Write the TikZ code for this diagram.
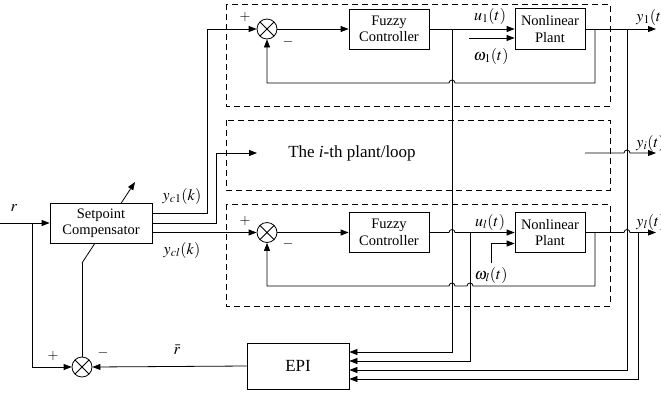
\documentclass[tikz,border=0pt]{standalone}
\usepackage{mathptmx}
\usepackage[no-math]{fontspec}
\setmainfont{Liberation Serif}
\usetikzlibrary{arrows.meta,calc}
\begin{document}
\begin{tikzpicture}[x=1pt,y=-1pt, line width=0.8pt,
  >={Triangle[length=8pt,width=6pt]},
  blk/.style={draw, rectangle, inner sep=0pt, align=center, font=\fontsize{14.5}{16.5}\selectfont},
  sumj/.style={draw, circle, minimum size=20pt, inner sep=0pt, path picture={\draw[line width=0.8pt] (path picture bounding box.north west) -- (path picture bounding box.south east) (path picture bounding box.north east) -- (path picture bounding box.south west);}},
  dbox/.style={draw, dash pattern=on 6pt off 4pt, line width=0.8pt},
  lbl/.style={font=\fontsize{16}{18}\selectfont, inner sep=0pt},
  sgn/.style={font=\fontsize{14}{16}\selectfont, inner sep=0pt}]
\useasboundingbox (0,0) rectangle (661,392);

% dashed boxes
\draw[dbox] (226,4) rectangle (610,106);
\draw[dbox] (226,120) rectangle (610,190);
\draw[dbox] (226,204) rectangle (610,306);

% nodes
\node[blk, minimum width=102pt, minimum height=40pt] (cmp) at (101,223) {Setpoint\\Compensator};
\node[sumj] (s1) at (267,29) {};
\node[blk, minimum width=80pt, minimum height=40pt] (fc1) at (389,29) {Fuzzy\\Controller};
\node[blk, minimum width=70pt, minimum height=41pt] (np1) at (550,29) {Nonlinear\\Plant};
\node[sumj] (sl) at (267,232.5) {};
\node[blk, minimum width=80pt, minimum height=40pt] (fcl) at (389,232.5) {Fuzzy\\Controller};
\node[blk, minimum width=70pt, minimum height=40pt] (npl) at (550,232.5) {Nonlinear\\Plant};
\node[sumj] (sb) at (82,367) {};
\node[draw, minimum width=102pt, minimum height=46pt, inner sep=0pt, font=\fontsize{17}{19}\selectfont] (epi) at (298,366) {EPI};
\node[inner sep=0pt, font=\fontsize{17}{19}\selectfont] (mid) at (352,153) {The \textit{i}-th plant/loop};

% coordinates
\coordinate (rin) at (0,223);
\coordinate (rj) at (32,223);
\coordinate (midin) at (257,153);
\coordinate (dbot) at (82,263);
\coordinate (dtop) at (135,182);
\coordinate (w1s) at (469,38);
\coordinate (wls) at (491,263);
\coordinate (u1b) at (452,29);
\coordinate (ulb) at (470,232.5);
\coordinate (y1b) at (627,29);
\coordinate (ylb) at (638,232.5);
\coordinate (f1b) at (595,29);
\coordinate (flb) at (595,232.5);
\coordinate (y1e) at (656,29);
\coordinate (yie) at (656,153);
\coordinate (yle) at (656,232.5);
\coordinate (yis) at (585,153);

% compensator connections
\draw[->] (rin) -- (cmp.west);
\draw[->] (rj) |- (sb.west);
\draw[->] ([yshift=10pt]cmp.east) -- ++(55,0) |- (s1.west);
\draw[->] (cmp.east) -- ++(64,0) |- (midin);
\draw[->] ([yshift=-9.5pt]cmp.east) -- (sl.west);
\draw (sb.north) -- (dbot);
\draw (dbot) -- ($(dbot)!0.247!(dtop)$);
\draw[->] ($(dbot)!0.741!(dtop)$) -- (dtop);
\draw[->] (epi.west) -- (sb.east);

% top loop
\draw[->] (s1.east) -- (fc1.west);
\draw[->] (fc1.east) -- (np1.west);
\draw[->] (w1s) -- (w1s -| np1.west);
\draw[->] (np1.east) -- (y1e);
\draw[->] (f1b) -- (595,83) -- (455,83) arc[start angle=0,end angle=180,radius=3pt] -| (s1.south);

% bottom loop
\draw[->] (sl.east) -- (fcl.west);
\draw[->] (fcl.east) -- (449,232.5) arc[start angle=180,end angle=0,radius=3pt] -- (npl.west);
\draw[->] (wls) |- ([yshift=-11pt]npl.west);
\draw[->] (npl.east) -- (624,232.5) arc[start angle=180,end angle=0,radius=3pt] -- (yle);
\draw[->] (flb) -- (595,286) -- (473,286) arc[start angle=0,end angle=180,radius=3pt] -- (455,286) arc[start angle=0,end angle=180,radius=3pt] -| (sl.south);

% middle output
\draw[->] (yis) -- (624,153) arc[start angle=180,end angle=0,radius=3pt] -- (yie);

% EPI inputs
\draw[->] (u1b) |- ([yshift=14pt]epi.east);
\draw[->] (ulb) |- ([yshift=5pt]epi.east);
\draw[->] (y1b) |- ([yshift=-4pt]epi.east);
\draw[->] (ylb) |- ([yshift=-13pt]epi.east);

% labels
\node[lbl] at (14,208) {$r$};
\node[lbl] at (182,196) {$y_{c1}(k)$};
\node[lbl] at (182,250) {$y_{cl}(k)$};
\node[lbl] at (177,350) {$\bar{r}$};
\node[lbl] at (490,16) {$u_1(t)$};
\node[lbl] at (491,56) {$\omega_1(t)$};
\node[lbl] at (491,275) {$\omega_l(t)$};
\node[lbl] at (490,222) {$u_l(t)$};
\node[lbl, anchor=west] at (636,17) {$y_1(t)$};
\node[lbl, anchor=west] at (636,143) {$y_i(t)$};
\node[lbl, anchor=west] at (636,222) {$y_l(t)$};
\node[sgn] at (245,17) {$+$};
\node[sgn] at (288,42) {$-$};
\node[sgn] at (245,221) {$+$};
\node[sgn] at (288,244) {$-$};
\node[sgn] at (53,356) {$+$};
\node[sgn] at (103,353) {$-$};
\end{tikzpicture}
\end{document}
